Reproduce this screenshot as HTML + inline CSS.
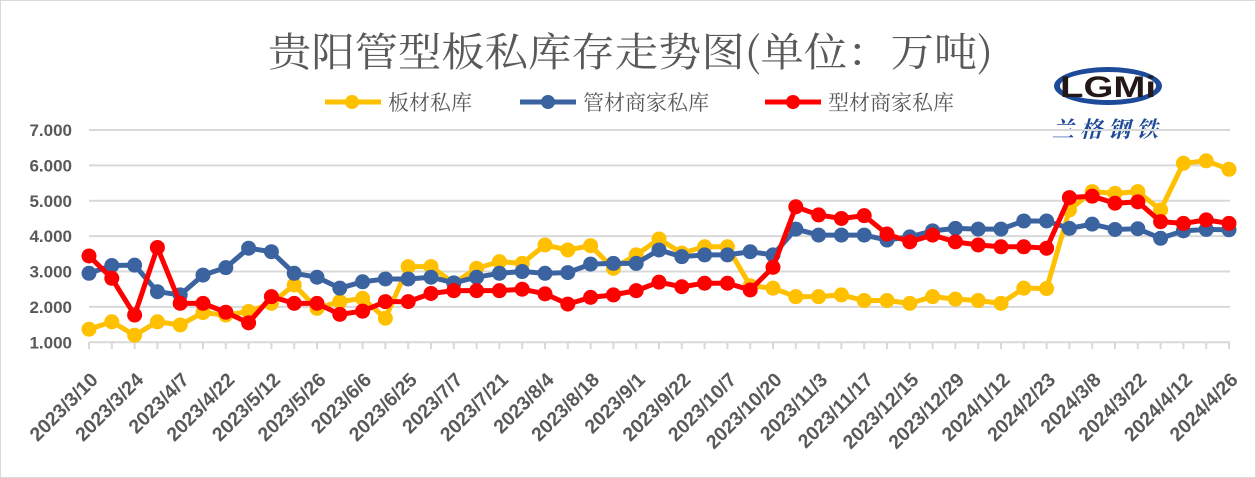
<!DOCTYPE html>
<html><head><meta charset="utf-8"><style>
body{margin:0;background:#fff}
svg{display:block}
</style></head><body>
<svg id="c" width="1256" height="478" xmlns="http://www.w3.org/2000/svg">
<rect x="0.5" y="0.5" width="1255" height="477" fill="#fff" stroke="#D9D9D9"/>
<text x="268" y="66" font-family="'Noto Serif CJK SC',serif" font-size="40" fill="#595959" textLength="725" lengthAdjust="spacingAndGlyphs">贵阳管型板私库存走势图(单位：万吨)</text>
<g font-family="'Noto Serif CJK SC',serif" font-size="21" fill="#595959">
<line x1="325" y1="102" x2="381" y2="102" stroke="#FFC000" stroke-width="5"/><circle cx="352" cy="102" r="7" fill="#FFC000"/>
<text x="388" y="110">板材私库</text>
<line x1="520" y1="102" x2="576" y2="102" stroke="#3A63A0" stroke-width="5"/><circle cx="548" cy="102" r="7" fill="#3A63A0"/>
<text x="583" y="110">管材商家私库</text>
<line x1="765" y1="102" x2="821" y2="102" stroke="#FF0000" stroke-width="5"/><circle cx="793" cy="102" r="7" fill="#FF0000"/>
<text x="828" y="110">型材商家私库</text>
</g>
<g>
<ellipse cx="1108" cy="86" rx="54" ry="19" fill="#1E4A9A"/>
<ellipse cx="1108" cy="86" rx="48" ry="14" fill="#fff"/>
<text x="1108" y="97" text-anchor="middle" font-family="'Liberation Sans',sans-serif" font-weight="bold" font-size="30" fill="#231815" textLength="96" lengthAdjust="spacingAndGlyphs">LGMi</text>
<text x="1108" y="137" text-anchor="middle" font-family="'Noto Serif CJK SC',serif" font-weight="bold" font-size="22" font-style="italic" fill="#1E4A9A" letter-spacing="6">兰格钢铁</text>
</g>
<g id="grid"></g>
<g id="ser"></g>
</svg>
<script>
const svg=document.getElementById('c');const NS='http://www.w3.org/2000/svg';
function el(t,a,p,txt){const e=document.createElementNS(NS,t);for(const k in a)e.setAttribute(k,a[k]);if(txt)e.textContent=txt;(p||svg).appendChild(e);return e;}
const y0=342.3,k=35.38,x0=89,dx=22.8;
const Y=v=>y0-(v-1)*k, X=i=>x0+i*dx;
const g=document.getElementById('grid');
for(let v=1;v<=7;v++){el('line',{x1:89,x2:1230,y1:Y(v),y2:Y(v),stroke:'#D9D9D9','stroke-width':2},g);
el('text',{x:72,y:Y(v)+6,'text-anchor':'end','font-family':"'Liberation Sans',sans-serif",'font-weight':'bold','font-size':17,fill:'#595959'},g,v+'.000');}
for(let i=0;i<51;i++)el('line',{x1:X(i),x2:X(i),y1:342,y2:349,stroke:'#D9D9D9','stroke-width':2},g);
const labs=['2023/3/10','2023/3/24','2023/4/7','2023/4/22','2023/5/12','2023/5/26','2023/6/6','2023/6/25','2023/7/7','2023/7/21','2023/8/4','2023/8/18','2023/9/1','2023/9/22','2023/10/7','2023/10/20','2023/11/3','2023/11/17','2023/12/15','2023/12/29','2024/1/12','2024/2/23','2024/3/8','2024/3/22','2024/4/12','2024/4/26'];
labs.forEach((l,j)=>{const x=X(j*2)+10,y=381;el('text',{x:x,y:y,'text-anchor':'end',transform:`rotate(-45 ${x} ${y})`,'font-family':"'Liberation Sans',sans-serif",'font-weight':'bold','font-size':19.5,fill:'#595959'},g,l);});
const yel=[1.37,1.58,1.2,1.58,1.49,1.84,1.77,1.87,2.1,2.62,1.96,2.15,2.24,1.68,3.14,3.14,2.67,3.09,3.28,3.23,3.75,3.61,3.73,3.09,3.47,3.92,3.52,3.7,3.7,2.6,2.53,2.29,2.29,2.34,2.18,2.18,2.1,2.29,2.22,2.18,2.1,2.53,2.52,4.74,5.26,5.21,5.26,4.74,6.06,6.13,5.89];
const blu=[2.95,3.17,3.18,2.43,2.34,2.9,3.11,3.66,3.56,2.95,2.84,2.53,2.71,2.79,2.79,2.84,2.68,2.84,2.95,3.0,2.95,2.97,3.21,3.23,3.23,3.61,3.42,3.47,3.47,3.56,3.47,4.2,4.03,4.03,4.03,3.89,3.98,4.15,4.22,4.2,4.2,4.43,4.43,4.22,4.34,4.19,4.21,3.94,4.15,4.19,4.18];
const red=[3.44,2.81,1.77,3.68,2.1,2.1,1.85,1.55,2.29,2.1,2.1,1.79,1.88,2.15,2.15,2.38,2.46,2.46,2.46,2.5,2.37,2.08,2.27,2.34,2.46,2.7,2.57,2.67,2.67,2.48,3.12,4.83,4.6,4.5,4.58,4.06,3.84,4.03,3.84,3.75,3.7,3.7,3.66,5.09,5.13,4.93,4.97,4.41,4.36,4.46,4.36];
const s=document.getElementById('ser');
[[yel,'#FFC000'],[blu,'#3A63A0'],[red,'#FF0000']].forEach(([d,c])=>{
el('polyline',{points:d.map((v,i)=>X(i)+','+Y(v)).join(' '),fill:'none',stroke:c,'stroke-width':5,'stroke-linejoin':'round'},s);
d.forEach((v,i)=>el('circle',{cx:X(i),cy:Y(v),r:7.5,fill:c},s));});
</script>
</body></html>
